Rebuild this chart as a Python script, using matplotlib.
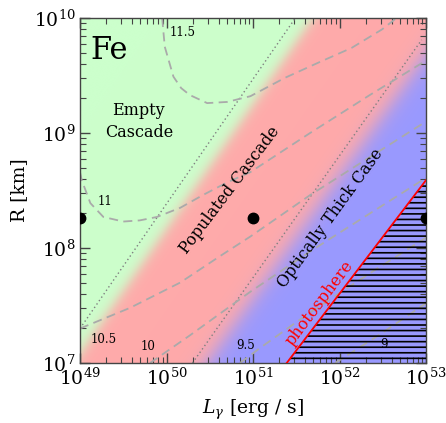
import numpy as np
import matplotlib
matplotlib.use('Agg')
import matplotlib.pyplot as plt

plt.rcParams['font.family'] = 'DejaVu Serif'
plt.rcParams['mathtext.fontset'] = 'dejavuserif'
plt.rcParams['hatch.linewidth'] = 1.2

# ---------------- data (log10 values) ----------------
# dashed contours (labelled 11.5 ... 9)
c115_logL = [49.95, 49.98, 50.08, 50.17, 50.27, 50.47, 50.70, 50.97, 51.37, 51.75, 52.14, 52.49, 52.66]
c115_logR = [10.00, 9.75, 9.49, 9.39, 9.33, 9.26, 9.27, 9.32, 9.48, 9.61, 9.74, 9.90, 10.00]
c110_logL = [49.00, 49.02, 49.12, 49.27, 49.50, 49.69, 49.89, 50.16, 50.42, 50.70, 50.97, 51.66, 52.35, 53.00]
c110_logR = [8.66, 8.59, 8.39, 8.27, 8.23, 8.24, 8.27, 8.35, 8.46, 8.57, 8.66, 9.00, 9.33, 9.63]
c105_logL = [49.00, 49.58, 50.16, 50.62, 50.97, 51.66, 52.35, 53.00]
c105_logR = [7.30, 7.48, 7.70, 7.93, 8.10, 8.46, 8.79, 9.10]
c100_logL = [49.81, 50.27, 50.73, 50.97, 51.66, 52.35, 53.00]
c100_logR = [7.00, 7.24, 7.49, 7.62, 7.97, 8.30, 8.61]
c095_logL = [50.85, 51.08, 51.66, 52.35, 53.00]
c095_logR = [7.00, 7.13, 7.44, 7.78, 8.09]
c090_logL = [51.95, 52.47, 53.00]
c090_logR = [7.00, 7.25, 7.52]

contour_values = ['11.5', '11', '10.5', '10', '9.5', '9']
label_logL = [50.19, 49.29, 49.27, 49.79, 50.91, 52.51]
label_logR = [9.87, 8.40, 7.20, 7.14, 7.15, 7.16]

# regime boundaries (dotted) and photosphere
bound_empty_logL = [49.00, 51.49]
bound_empty_logR = [7.30, 10.00]
bound_thick_logL = [50.30, 52.95]
bound_thick_logR = [7.00, 9.81]
photo_logL = [51.39, 53.00]
photo_logR = [7.00, 8.59]

# black points
dots_logL = [49.0, 51.0, 53.0]
dots_logR = [8.26, 8.26, 8.26]

xticks_log = [49, 50, 51, 52, 53]
yticks_log = [7, 8, 9, 10]

# ---------------- figure ----------------
W, H = 446, 423
fig = plt.figure(figsize=(W / 100, H / 100), dpi=100)
pos = [80 / W, 1 - 363 / H, 346 / W, 345 / H]

# background colour field (in log space)
bg = fig.add_axes(pos, zorder=0)
gl = np.linspace(49, 53, 700)
gr = np.linspace(7, 10, 600)
LL, RR = np.meshgrid(gl, gr)

def bound_L(logR, bl, br):
    return bl[0] + (logR - br[0]) * (bl[1] - bl[0]) / (br[1] - br[0])

d1 = LL - bound_L(RR, bound_empty_logL, bound_empty_logR)
d2 = LL - bound_L(RR, bound_thick_logL, bound_thick_logR)
w1 = 1 / (1 + np.exp(-(d1 - 0.20) / 0.05))
w2 = 1 / (1 + np.exp(-(d2 - 0.17) / 0.08))
green = np.array([204, 255, 204]) / 255
red = np.array([255, 170, 170]) / 255
blue = np.array([153, 153, 255]) / 255
img = (green[None, None, :] * (1 - w1)[..., None]
       + red[None, None, :] * (w1 * (1 - w2))[..., None]
       + blue[None, None, :] * w2[..., None])
bg.imshow(img, origin='lower', extent=(49, 53, 7, 10), aspect='auto', interpolation='bilinear')
bg.set_axis_off()

ax = fig.add_axes(pos, zorder=1)
ax.patch.set_alpha(0)
ax.set_xscale('log')
ax.set_yscale('log')
ax.set_xlim(1e49, 1e53)
ax.set_ylim(1e7, 1e10)

P = lambda a: 10.0 ** np.asarray(a)

# dotted regime boundaries
for bl, br in [(bound_empty_logL, bound_empty_logR), (bound_thick_logL, bound_thick_logR)]:
    ax.plot(P(bl), P(br), color='#808080', lw=1.0, ls=(0, (1, 2)), zorder=2)

# dashed contours
for cl, cr in [(c115_logL, c115_logR), (c110_logL, c110_logR), (c105_logL, c105_logR),
               (c100_logL, c100_logR), (c095_logL, c095_logR), (c090_logL, c090_logR)]:
    ax.plot(P(cl), P(cr), color='#aaaaaa', lw=1.3, ls=(0, (5, 3)), zorder=2)

for v, xl, yl in zip(contour_values, label_logL, label_logR):
    ax.text(P(xl), P(yl), v, fontsize=8.5, ha='center', va='center', zorder=4)

# photosphere, hatched region
ax.fill_between(P(photo_logL), P(photo_logR), 1e7, facecolor='none', edgecolor='black',
                hatch='---', linewidth=0, zorder=3)
ax.plot(P(photo_logL), P(photo_logR), color='red', lw=1.3, zorder=4)

# points
ax.plot(P(dots_logL), P(dots_logR), 'o', color='black', ms=7.5, zorder=5)

# region annotations
ax.text(P(49.34), P(9.72), 'Fe', fontsize=22, ha='center', va='center')
ax.text(P(49.68), P(9.10), 'Empty\nCascade', fontsize=11.5, ha='center', va='center',
        linespacing=1.4)
ax.text(P(50.73), P(8.50), 'Populated Cascade', fontsize=11.5, ha='center', va='center',
        rotation=53, rotation_mode='anchor')
ax.text(P(51.89), P(8.26), 'Optically Thick Case', fontsize=11.5, ha='center', va='center',
        rotation=54, rotation_mode='anchor')
ax.text(P(51.77), P(7.52), 'photosphere', fontsize=11.5, ha='center', va='center',
        rotation=53, rotation_mode='anchor', color='red')

# axes styling
ax.set_xticks(P(xticks_log))
ax.set_xticklabels([r'$10^{%d}$' % t for t in xticks_log])
ax.set_yticks(P(yticks_log))
ax.set_yticklabels([r'$10^{%d}$' % t for t in yticks_log])
ax.tick_params(which='both', direction='in', top=True, right=True, color='#444444')
ax.tick_params(which='major', length=7, width=1, labelsize=13.5, pad=3)
ax.tick_params(which='minor', length=4, width=0.8)
for s in ax.spines.values():
    s.set_color('#444444')
    s.set_linewidth(1.0)
ax.set_xlabel(r'$L_\gamma$ [erg / s]', fontsize=13.5, labelpad=7)
ax.set_ylabel('R [km]', fontsize=13.5, labelpad=4)

fig.savefig('out.png', dpi=100)
